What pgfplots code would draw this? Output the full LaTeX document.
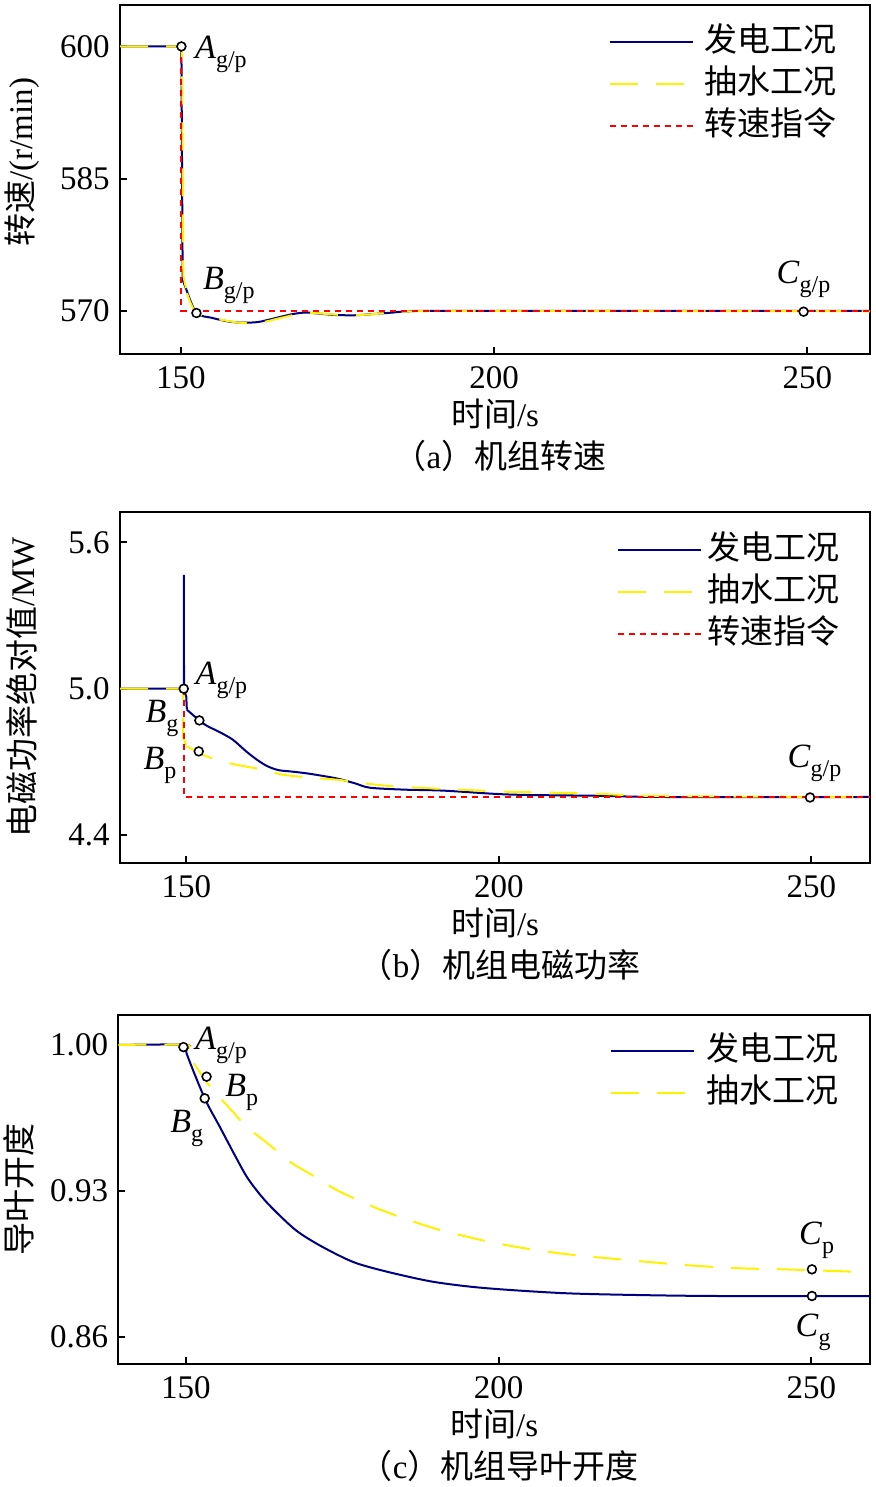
\documentclass[border=0pt]{standalone}
\usepackage{fontspec}
\setmainfont{Liberation Serif}
\newfontfamily\cjk{Noto Sans CJK SC}
\usepackage{pgfplots}
\pgfplotsset{compat=1.18}
\definecolor{navyb}{RGB}{0,0,128}
\newcommand\fs{\fontsize{16.5}{19}\selectfont}
\newcommand\lab[2]{\fontsize{17}{17}\selectfont\textit{#1}\raisebox{-4.5pt}{\fontsize{12}{12}\selectfont #2}}
\pgfplotsset{
  panel/.style={
    scale only axis, width=375pt,
    axis line style={line width=1pt},
    tick align=inside, tick pos=left, major tick length=3.5pt,
    every tick/.style={black, line width=1pt},
    ticklabel style={font=\fs},
    /pgf/number format/assume math mode=true,
    yticklabel style={inner sep=0pt, xshift=-5pt},
    xticklabel style={anchor=base, inner sep=0pt, yshift=-17pt},
    xtick={150,200,250},
    clip=false,
    xlabel style={at={(axis description cs:0.5,0)}, anchor=base, yshift=-36pt, inner sep=0pt, font=\fs},
    ylabel style={anchor=center, inner sep=0pt, font=\fs},
    legend style={draw=none, fill=none, inner sep=0pt, outer sep=0pt, font=\fs,
      row sep=3pt, column sep=5.5pt, anchor=north west,
      nodes={inner sep=0pt, text height=14pt, text depth=4pt}},
    legend cell align=left,
    legend image code/.code={\draw[##1] (0pt,0pt) -- (41.5pt,0pt);},
  },
  gen/.style={navyb, line width=1pt},
  pump/.style={yellow, line width=1pt, dash pattern=on 14pt off 9pt},
  cmd/.style={red, line width=1pt, dash pattern=on 3pt off 2.5pt},
  pts/.style={only marks, mark=*, mark size=2.2pt, mark options={draw=black, fill=white, line width=0.8pt, solid}, forget plot},
}
\begin{document}
\begin{tikzpicture}
\useasboundingbox (0pt,0pt) rectangle (437.5pt,-743.5pt);
% ---------------- (a)
\begin{axis}[panel, height=174.5pt, at={(60pt,-177pt)}, anchor=south west,
  xmin=140.3, xmax=260, ymin=565.1, ymax=604.7,
  ytick={570,585,600},
  xlabel={{\cjk 时间}/s},
  ylabel={{\cjk 转速}/(r/min)},
  ylabel style={at={(axis description cs:-0.1305,0.55)}},
  legend style={at={(axis description cs:0.6514,0.9456)}},
]
\addplot[gen] coordinates {(140.3,600) (150.1,600) (150.3,573.5) (150.9,572.4)};
\addlegendentry{{\cjk 发电工况}}
\addplot[pump] coordinates {(140.3,600) (150.2,600) (150.4,574) (151,572)};
\addlegendentry{{\cjk 抽水工况}}
\addplot[gen, smooth, tension=0.5, forget plot] coordinates {(150.9,572.4) (152.5,569.75) (155,569.2) (157.5,568.8) (159.9,568.65) (162.5,568.75) (165.8,569.3) (168,569.65) (170,569.8) (172.5,569.65) (174.8,569.52) (178,569.5) (181,569.65) (183.8,569.8) (186.5,569.95) (195,570) (260,570)};
\addplot[pump, smooth, tension=0.5, forget plot] coordinates {(151,572) (152.5,569.75) (156,569.05) (160,568.6) (163,568.7) (166,569.2) (170,569.75) (175,569.55) (178,569.5) (183,569.75) (187,569.95) (200,570) (260,569.95)};
\addplot[cmd] coordinates {(150.1,600) (150.1,570) (260,570)};
\addlegendentry{{\cjk 转速指令}}
\addplot[pts] coordinates {(150.1,600) (152.5,569.75) (249.4,569.9)};
\node[anchor=base west, inner sep=0pt] at (axis cs:152.23,598.68) {\lab{A}{g/p}};
\node[anchor=base west, inner sep=0pt] at (axis cs:153.5,572.46) {\lab{B}{g/p}};
\node[anchor=base west, inner sep=0pt] at (axis cs:245.05,573.14) {\lab{C}{g/p}};
\node[anchor=base, inner sep=0pt, font=\fs] at ([yshift=-57pt]axis description cs:0.5067,0) {{\cjk （}a{\cjk ）机组转速}};
\end{axis}
% ---------------- (b)
\begin{axis}[panel, height=175.8pt, at={(60pt,-431.65pt)}, anchor=south west,
  xmin=139.4, xmax=259.4, ymin=4.284, ymax=5.726,
  ytick={4.4,5.0,5.6},
  yticklabel style={/pgf/number format/.cd, fixed, precision=1, fixed zerofill},
  xlabel={{\cjk 时间}/s},
  ylabel={{\cjk 电磁功率绝对值}/MW},
  ylabel style={at={(axis description cs:-0.1305,0.5)}},
  legend style={at={(axis description cs:0.6625,0.9431)}, column sep=3pt},
]
\addplot[gen] coordinates {(139.4,5.0) (149.6,5.0) (149.6,5.467) (149.65,5.0) (150,4.967) (150.1,4.914)};
\addlegendentry{{\cjk 发电工况}}
\addplot[pump] coordinates {(139.4,5.0) (149.5,5.0) (149.5,4.80) (150.1,4.763)};
\addlegendentry{{\cjk 抽水工况}}
\addplot[gen, smooth, tension=0.5, forget plot] coordinates {(150.1,4.914) (152.1,4.87) (153.3,4.848) (155.5,4.82) (157.5,4.79) (159.5,4.745) (161.3,4.709) (163,4.682) (164.8,4.666) (167,4.66) (169.8,4.651) (174.1,4.632) (177,4.612) (179.4,4.594) (185,4.586) (191.2,4.582) (201.8,4.566) (215.7,4.561) (226.3,4.556) (259.4,4.556)};
\addplot[pump, smooth, tension=0.5, forget plot] coordinates {(150.1,4.763) (151.5,4.745) (153.3,4.722) (156.8,4.695) (161.6,4.671) (165.6,4.647) (170.4,4.634) (174.1,4.627) (179.2,4.61) (182.9,4.6) (188,4.593) (196.5,4.583) (200.5,4.578) (214.6,4.57) (223.4,4.561) (235.4,4.558) (259.4,4.556)};
\addplot[cmd] coordinates {(149.6,5.0) (149.6,4.558) (259.4,4.558)};
\addlegendentry{{\cjk 转速指令}}
\addplot[pts] coordinates {(149.6,5.0) (152.1,4.87) (152,4.743) (249.8,4.554)};
\node[anchor=base west, inner sep=0pt] at (axis cs:151.44,5.0164) {\lab{A}{g/p}};
\node[anchor=base west, inner sep=0pt] at (axis cs:143.44,4.8606) {\lab{B}{g}};
\node[anchor=base west, inner sep=0pt] at (axis cs:143.12,4.668) {\lab{B}{p}};
\node[anchor=base west, inner sep=0pt] at (axis cs:246.16,4.676) {\lab{C}{g/p}};
\node[anchor=base, inner sep=0pt, font=\fs] at ([yshift=-57pt]axis description cs:0.5067,0) {{\cjk （}b{\cjk ）机组电磁功率}};
\end{axis}
% ---------------- (c)
\begin{axis}[panel, height=174.65pt, at={(59.2pt,-682.15pt)}, anchor=south west,
  width=375.85pt,
  xmin=139.2, xmax=259.4, ymin=0.8467, ymax=1.0144,
  ytick={0.86,0.93,1.00},
  yticklabel style={/pgf/number format/.cd, fixed, precision=2, fixed zerofill},
  xlabel={{\cjk 时间}/s},
  ylabel={{\cjk 导叶开度}},
  ylabel style={at={(axis description cs:-0.132,0.5)}},
  legend style={at={(axis description cs:0.654,0.9493)}},
]
\addplot[gen, smooth, tension=0.5] coordinates {(139.2,1.0) (150,1.0) (150.1,0.996) (153,0.9744) (155.4,0.9608) (158.1,0.9455) (160,0.9355) (162.9,0.9245) (167.2,0.912) (170.4,0.9055) (174.1,0.8995) (177.3,0.8952) (182.1,0.8912) (189,0.8866) (195.4,0.884) (201.8,0.8824) (210.9,0.8808) (221.6,0.88) (234.9,0.8795) (259.4,0.8795)};
\addlegendentry{{\cjk 发电工况}}
\addplot[pump, smooth, tension=0.5] coordinates {(139.2,1.0) (150,1.0) (150.1,0.9963) (151.7,0.9893) (153.8,0.9803) (157,0.9696) (159.7,0.9608) (163.4,0.952) (166.6,0.944) (170.6,0.9368) (174.1,0.9304) (178.4,0.9243) (182.1,0.9198) (186.4,0.9152) (190.6,0.9112) (194.9,0.908) (199.2,0.9051) (205,0.902) (212,0.8992) (220.5,0.8968) (229.6,0.8944) (238.6,0.8928) (245.6,0.8923) (256.5,0.8912)};
\addlegendentry{{\cjk 抽水工况}}
\addplot[pts] coordinates {(149.6,0.999) (153.3,0.9848) (153,0.9744) (250.1,0.8923) (250.1,0.8795)};
\node[anchor=base west, inner sep=0pt] at (axis cs:151.44,0.998) {\lab{A}{g/p}};
\node[anchor=base west, inner sep=0pt] at (axis cs:156.24,0.9755) {\lab{B}{p}};
\node[anchor=base west, inner sep=0pt] at (axis cs:147.44,0.9578) {\lab{B}{g}};
\node[anchor=base west, inner sep=0pt] at (axis cs:247.97,0.904) {\lab{C}{p}};
\node[anchor=base west, inner sep=0pt] at (axis cs:247.44,0.86) {\lab{C}{g}};
\node[anchor=base, inner sep=0pt, font=\fs] at ([yshift=-57pt]axis description cs:0.5067,0) {{\cjk （}c{\cjk ）机组导叶开度}};
\end{axis}
\end{tikzpicture}
\end{document}
